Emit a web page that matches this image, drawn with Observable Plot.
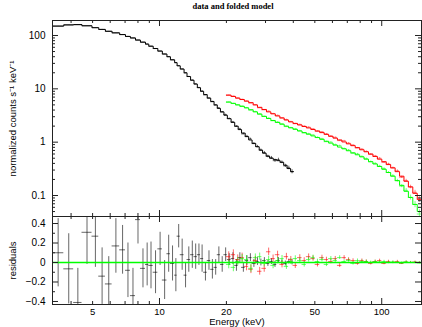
<!DOCTYPE html>
<html><head><meta charset="utf-8">
<script src="https://cdn.jsdelivr.net/npm/d3@7"></script>
<script src="https://cdn.jsdelivr.net/npm/@observablehq/plot@0.6"></script>
<style>
body{margin:0;background:#fff;}
#chart{position:relative;width:422px;height:327px;overflow:hidden;background:#fff;}
#chart svg{position:absolute;left:0;}
</style></head><body><div id="chart"></div>
<script>
// ---- data ----
const blackEdges = [3.3,3.71,4.11,4.48,4.97,5.33,5.71,6.12,6.62,7.03,7.40,7.80,8.21,8.65,8.95,9.37,9.83,10.3,10.8,11.2,11.7,12.0,12.4,12.9,13.3,13.8,14.3,14.8,15.3,15.8,16.4,17.0,17.6,18.2,18.8,19.5,20.2,21.0,21.8,22.6,23.4,24.3,25.2,26.1,27.1,28.1,29.1,30.2,31.3,32.5,33.7,34.9,36.2,37.5,38.9,40.1];
const blackModel = [150,158,160,152,140,130,120,112,104,96,90,82,75,69,63,57,51,45,40,35,31,27,23.5,20,17,14.5,12.3,10.5,9.0,7.8,6.7,5.8,5.0,4.3,3.7,3.2,2.75,2.35,2.0,1.72,1.48,1.27,1.1,0.95,0.82,0.71,0.62,0.55,0.5,0.47,0.45,0.42,0.37,0.32,0.28];
const blackRes = [0.10,-0.065,-0.41,0.31,0.27,-0.14,-0.22,0.17,0.13,-0.08,-0.34,0.44,-0.06,-0.02,-0.03,-0.10,0.14,-0.18,0.09,-0.01,-0.13,0.27,0.08,-0.13,0.03,0.08,0.06,0.08,0.04,-0.10,0.02,-0.07,-0.05,0.08,-0.02,0.08,0.03,0.04,-0.03,0.05,-0.05,0.02,0.05,-0.01,0.01,0.0,0.02,-0.01,0.01,-0.02,0.02,0.0,-0.01,0.01,0.0];
const blackErr = [0.35,0.36,0.35,0.33,0.32,0.29,0.28,0.28,0.25,0.28,0.28,0.25,0.20,0.22,0.24,0.22,0.17,0.20,0.19,0.18,0.17,0.12,0.16,0.13,0.13,0.14,0.13,0.11,0.14,0.09,0.10,0.10,0.08,0.08,0.08,0.07,0.06,0.06,0.06,0.05,0.05,0.05,0.04,0.04,0.04,0.035,0.03,0.03,0.03,0.03,0.03,0.025,0.025,0.025,0.025];

const hiEdges = [20,21,22,23,24.1,25.2,26.4,27.6,28.9,30.3,31.7,33.2,34.8,36.4,38.1,39.9,41.8,43.8,45.8,48,50.2,52.6,55.1,57.7,60.4,63.2,66.2,69.3,72.6,76,79.6,83.3,87.2,91.3,95.6,100.1,104.8,109.7,114.9,120.3,125.9,131.8,138,144.5,151];
const redModel = [7.6,7.2,6.7,6.3,5.9,5.5,5.0,4.5,4.1,3.7,3.4,3.1,2.85,2.6,2.4,2.25,2.1,1.97,1.85,1.73,1.62,1.51,1.4,1.29,1.19,1.1,1.01,0.93,0.86,0.79,0.72,0.66,0.6,0.54,0.48,0.43,0.38,0.33,0.28,0.23,0.185,0.145,0.11,0.085];
const redRes = [0.06,0.08,0.03,0.05,-0.04,-0.07,0.02,-0.09,-0.06,0.11,0.04,0.08,-0.02,0.06,0.03,-0.03,0.05,0.02,0.06,0.04,-0.02,0.05,0.03,0.01,0.04,-0.03,0.05,0.03,0.02,-0.01,0.02,0.01,-0.01,0.01,0.02,-0.01,0.01,0.0,0.01,-0.01,0.005,0.0,0.005,0.0];
const redErr = [0.05,0.05,0.048,0.046,0.045,0.044,0.042,0.04,0.04,0.038,0.037,0.036,0.035,0.034,0.032,0.031,0.03,0.029,0.028,0.027,0.026,0.025,0.024,0.023,0.022,0.021,0.02,0.019,0.018,0.017,0.016,0.016,0.015,0.014,0.014,0.013,0.013,0.012,0.012,0.011,0.011,0.011,0.01,0.01];
const greenModel = [5.65,5.35,5.0,4.7,4.4,4.05,3.7,3.35,3.05,2.78,2.55,2.35,2.17,2.0,1.86,1.74,1.62,1.51,1.41,1.31,1.22,1.13,1.04,0.96,0.88,0.81,0.75,0.69,0.63,0.58,0.53,0.48,0.43,0.39,0.35,0.31,0.27,0.23,0.19,0.155,0.12,0.092,0.068,0.05];
const greenRes = [-0.02,-0.05,0.01,0.04,0.03,-0.06,0.05,0.06,-0.01,0.03,-0.03,0.02,0.04,-0.04,0.01,0.04,0.02,-0.02,0.03,0.05,0.01,0.03,-0.02,0.04,0.02,0.05,0.01,0.02,-0.01,0.02,0.01,0.01,0.0,0.01,0.005,0.01,0.0,0.005,0.0,-0.005,0.005,0.0,0.0,-0.005];
const greenErr = [0.045,0.045,0.043,0.042,0.041,0.04,0.038,0.037,0.036,0.035,0.034,0.033,0.032,0.031,0.03,0.029,0.028,0.027,0.026,0.025,0.024,0.023,0.022,0.021,0.02,0.019,0.018,0.017,0.016,0.016,0.015,0.014,0.014,0.013,0.013,0.012,0.012,0.011,0.011,0.01,0.01,0.01,0.009,0.009];

const xTickLabels = [5,10,20,50,100];
const xMajorTicks = [10,100];
const xMinorTicks = [4,5,6,7,8,9,20,30,40,50,60,70,80,90];
const yTopLabels = [0.1,1,10,100];
const yTopMinor = [0.05,0.06,0.07,0.08,0.09,0.2,0.3,0.4,0.5,0.6,0.7,0.8,0.9,2,3,4,5,6,7,8,9,20,30,40,50,60,70,80,90];
const yResLabels = [-0.4,-0.2,0,0.2,0.4];
const yResMinor = [-0.3,-0.1,0.1,0.3];

const titleText = "data and folded model";
const yTopTitle = "normalized counts s\u207B\u00B9 keV\u207B\u00B9";
const yResTitle = "residuals";
const xTitle = "Energy (keV)";

// ---- build ----
function makeBins(edges, model, res, err) {
  return model.map((m, i) => ({x1: edges[i], x2: edges[i+1], xc: Math.sqrt(edges[i]*edges[i+1]),
    model: m, res: res[i], err: err[i], data: m + res[i]}));
}
const blackBins = makeBins(blackEdges, blackModel, blackRes, blackErr);
const redBins = makeBins(hiEdges, redModel, redRes, redErr);
const greenBins = makeBins(hiEdges, greenModel, greenRes, greenErr);
const steps = b => b.flatMap(d => [{x: d.x1, y: d.model}, {x: d.x2, y: d.model}]);

const W = 422, ML = 52, MR = 1;
const FW = W - ML - MR;
const xDomain = [3.3, 151];
const frameColor = "#222";
const sans = "'Liberation Sans', Arial, sans-serif";
const baseStyle = {fontFamily: sans, fontSize: "10px", background: "transparent", overflow: "visible"};

function edgeTicks(xv, yv, len, fh) {
  return [
    Plot.tickX(xv, {x: d => d, insetBottom: fh - len, stroke: frameColor}),
    Plot.tickX(xv, {x: d => d, insetTop: fh - len, stroke: frameColor}),
    Plot.tickY(yv, {y: d => d, insetRight: FW - len, stroke: frameColor}),
    Plot.tickY(yv, {y: d => d, insetLeft: FW - len, stroke: frameColor})
  ];
}

function dataMarks(b, color, opacity) {
  return [
    Plot.ruleX(b, {x: "xc", y1: d => Math.max(1e-3, d.data - d.err), y2: d => d.data + d.err, stroke: color, strokeOpacity: opacity, clip: true}),
    Plot.ruleY(b, {y: "data", x1: "x1", x2: "x2", stroke: color, strokeOpacity: opacity, clip: true}),
    Plot.line(steps(b), {x: "x", y: "y", stroke: color, strokeWidth: 1, clip: true})
  ];
}
function resMarks(b, color, opacity) {
  return [
    Plot.ruleX(b, {x: "xc", y1: d => d.res - d.err, y2: d => d.res + d.err, stroke: color, strokeOpacity: opacity, clip: true}),
    Plot.ruleY(b, {y: "res", x1: "x1", x2: "x2", stroke: color, strokeOpacity: opacity, clip: true})
  ];
}

const TOPH = 218, TMT = 20, TMB = 2;
const topFH = TOPH - TMT - TMB;
const topPlot = Plot.plot({
  width: W, height: TOPH, marginLeft: ML, marginRight: MR, marginTop: TMT, marginBottom: TMB,
  style: baseStyle,
  x: {type: "log", domain: xDomain, axis: null},
  y: {type: "log", domain: [0.0404, 191], axis: null},
  marks: [
    ...dataMarks(blackBins, "#000", 0.6),
    ...dataMarks(redBins, "#ff0000", 0.5),
    ...dataMarks(greenBins, "#00ff00", 0.5),
    ...edgeTicks(xMajorTicks, yTopLabels, 6, topFH),
    ...edgeTicks(xMinorTicks, yTopMinor, 3, topFH),
    Plot.frame({stroke: frameColor}),
    Plot.text(yTopLabels, {y: d => d, frameAnchor: "left", dx: -7, textAnchor: "end", lineAnchor: "middle", fontSize: 10, text: d => String(d)}),
    Plot.text([yTopTitle], {frameAnchor: "left", dx: -40, rotate: -90, textAnchor: "middle", lineAnchor: "middle", fontSize: 9.5, text: d => d}),
    Plot.text([titleText], {frameAnchor: "top", dy: -18, dx: -4, textAnchor: "middle", lineAnchor: "top", fontWeight: "bold", fontFamily: "'Liberation Serif', serif", fontSize: 8.5, text: d => d})
  ]
});
topPlot.style.top = "0px";

const BOTH = 113, BMT = 2, BMB = 23;
const botFH = BOTH - BMT - BMB;
const bottomPlot = Plot.plot({
  width: W, height: BOTH, marginLeft: ML, marginRight: MR, marginTop: BMT, marginBottom: BMB,
  style: baseStyle,
  x: {type: "log", domain: xDomain, axis: null},
  y: {domain: [-0.431, 0.472], axis: null},
  marks: [
    ...resMarks(blackBins, "#000", 0.6),
    ...resMarks(redBins, "#ff0000", 0.6),
    ...resMarks(greenBins, "#00ff00", 0.6),
    Plot.ruleY([0], {stroke: "#00ff00", strokeWidth: 1.3}),
    ...edgeTicks(xMajorTicks, yResLabels, 6, botFH),
    ...edgeTicks(xMinorTicks, yResMinor, 3, botFH),
    Plot.frame({stroke: frameColor}),
    Plot.text(yResLabels, {y: d => d, frameAnchor: "left", dx: -7, textAnchor: "end", lineAnchor: "middle", fontSize: 10, text: d => d === 0 ? "0" : (d < 0 ? "\u2212" : "") + Math.abs(d).toFixed(1)}),
    Plot.text(xTickLabels, {x: d => d, frameAnchor: "bottom", dy: 7, textAnchor: "middle", lineAnchor: "middle", fontSize: 9.5, text: d => String(d)}),
    Plot.text([yResTitle], {frameAnchor: "left", dx: -40, rotate: -90, textAnchor: "middle", lineAnchor: "middle", fontSize: 9.5, text: d => d}),
    Plot.text([xTitle], {frameAnchor: "bottom", dy: 17, textAnchor: "middle", lineAnchor: "middle", fontSize: 9.5, text: d => d})
  ]
});
bottomPlot.style.top = (216 - BMT) + "px";

const chart = document.getElementById("chart");
chart.appendChild(topPlot);
chart.appendChild(bottomPlot);
</script>
</body></html>
